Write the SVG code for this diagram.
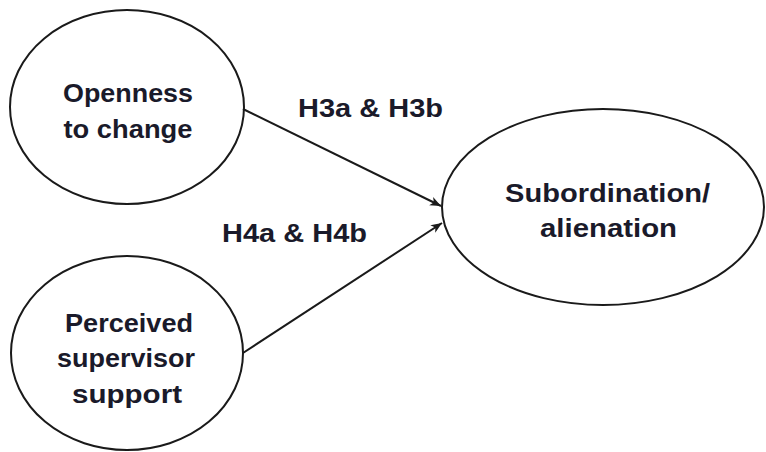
<svg xmlns="http://www.w3.org/2000/svg" width="766" height="452" viewBox="0 0 766 452">
  <style>
    .node { fill: #ffffff; stroke: #1a1a1a; stroke-width: 2; }
    .label { font-family: "Liberation Sans", Arial, sans-serif; font-weight: bold; font-size: 26.5px; fill: #1a1a2a; text-anchor: middle; }
    .edge { stroke: #1a1a1a; stroke-width: 2; fill: none; marker-end: url(#arrow); }
  </style>
  <defs>
    <marker id="arrow" markerWidth="12" markerHeight="10" refX="11" refY="5" orient="auto" markerUnits="userSpaceOnUse">
      <path d="M0,0.5 L11,5 L0,9.5 L3,5 Z" fill="#1a1a1a"/>
    </marker>
  </defs>
  <rect width="766" height="452" fill="#ffffff"/>

  <g id="openness">
    <ellipse class="node" cx="127" cy="107" rx="117" ry="97"/>
    <text class="label" x="128" y="102" textLength="130" lengthAdjust="spacingAndGlyphs">Openness</text>
    <text class="label" x="128" y="138" textLength="129" lengthAdjust="spacingAndGlyphs">to change</text>
  </g>

  <g id="supervisor-support">
    <ellipse class="node" cx="127" cy="353" rx="116" ry="97"/>
    <text class="label" x="129" y="332" textLength="128" lengthAdjust="spacingAndGlyphs">Perceived</text>
    <text class="label" x="126" y="367" textLength="138" lengthAdjust="spacingAndGlyphs">supervisor</text>
    <text class="label" x="127" y="403" textLength="110" lengthAdjust="spacingAndGlyphs">support</text>
  </g>

  <g id="subordination">
    <ellipse class="node" cx="603" cy="207" rx="161" ry="98"/>
    <text class="label" x="607.5" y="202" textLength="205" lengthAdjust="spacingAndGlyphs">Subordination/</text>
    <text class="label" x="608.5" y="237" textLength="137" lengthAdjust="spacingAndGlyphs">alienation</text>
  </g>

  <g id="connectors">
    <line class="edge" x1="243" y1="109" x2="441" y2="206"/>
    <line class="edge" x1="243" y1="353" x2="442" y2="223"/>
    <text class="label" x="370.5" y="117" textLength="145" lengthAdjust="spacingAndGlyphs">H3a &amp; H3b</text>
    <text class="label" x="294.5" y="242" textLength="145" lengthAdjust="spacingAndGlyphs">H4a &amp; H4b</text>
  </g>
</svg>
